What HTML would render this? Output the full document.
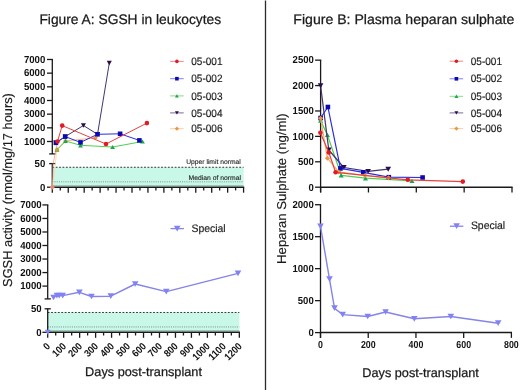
<!DOCTYPE html><html><head><meta charset="utf-8"><style>html,body{margin:0;padding:0;background:#fff;}body{width:520px;height:390px;overflow:hidden;}svg{display:block;filter:blur(0.3px);}text{font-family:"Liberation Sans", sans-serif;text-rendering:geometricPrecision;}</style></head><body>
<svg width="520" height="390" viewBox="0 0 520 390">
<rect width="520" height="390" fill="#fff"/>
<line x1="265.50" y1="0.50" x2="265.50" y2="390.00" stroke="#2b2b2b" stroke-width="1.3" />
<text x="39.40" y="23.80" font-size="13.8" font-weight="normal" text-anchor="start" fill="#1a1a1a" textLength="181.8" lengthAdjust="spacingAndGlyphs" stroke="#1a1a1a" stroke-width="0.25">Figure A: SGSH in leukocytes</text>
<text x="293.30" y="23.80" font-size="13.8" font-weight="normal" text-anchor="start" fill="#1a1a1a" textLength="221.0" lengthAdjust="spacingAndGlyphs" stroke="#1a1a1a" stroke-width="0.25">Figure B: Plasma heparan sulphate</text>
<text x="85.10" y="376.30" font-size="12.6" font-weight="normal" text-anchor="start" fill="#1a1a1a" textLength="116.9" lengthAdjust="spacingAndGlyphs" stroke="#1a1a1a" stroke-width="0.25">Days post-transplant</text>
<text x="362.30" y="376.60" font-size="12.6" font-weight="normal" text-anchor="start" fill="#1a1a1a" textLength="116.5" lengthAdjust="spacingAndGlyphs" stroke="#1a1a1a" stroke-width="0.25">Days post-transplant</text>
<text x="0" y="0" font-size="12.9" fill="#1a1a1a" textLength="193.8" lengthAdjust="spacingAndGlyphs" stroke="#1a1a1a" stroke-width="0.15" transform="translate(11.6,286.9) rotate(-90)">SGSH activity (nmol/mg/17 hours)</text>
<text x="0" y="0" font-size="12.9" fill="#1a1a1a" textLength="150.6" lengthAdjust="spacingAndGlyphs" stroke="#1a1a1a" stroke-width="0.15" transform="translate(286.2,263.9) rotate(-90)">Heparan Sulphate (ng/ml)</text>
<rect x="52.30" y="167.28" width="191.28" height="19.92" fill="#c9f7e8"/>
<line x1="52.30" y1="167.28" x2="243.58" y2="167.28" stroke="#333" stroke-width="1.0" stroke-dasharray="1.8,1.6"/>
<line x1="52.30" y1="181.82" x2="243.58" y2="181.82" stroke="#6a8a80" stroke-width="0.9" stroke-dasharray="1,1.2"/>
<line x1="52.30" y1="185.60" x2="243.58" y2="185.60" stroke="#8fb0a6" stroke-width="0.8" />
<text x="240.80" y="164.30" font-size="6.7" font-weight="normal" text-anchor="end" fill="#222" textLength="54.6" lengthAdjust="spacingAndGlyphs" stroke="#222" stroke-width="0.12">Upper limit normal</text>
<text x="241.00" y="179.60" font-size="6.7" font-weight="normal" text-anchor="end" fill="#222" textLength="52.5" lengthAdjust="spacingAndGlyphs" stroke="#222" stroke-width="0.12">Median of normal</text>
<line x1="52.30" y1="59.48" x2="52.30" y2="153.90" stroke="#1a1a1a" stroke-width="1.3" />
<line x1="47.00" y1="59.48" x2="52.95" y2="59.48" stroke="#1a1a1a" stroke-width="1.3" />
<text x="45.30" y="62.78" font-size="10.2" font-weight="bold" text-anchor="end" fill="#111" textLength="21.4" lengthAdjust="spacingAndGlyphs" >7000</text>
<line x1="47.00" y1="73.15" x2="52.30" y2="73.15" stroke="#1a1a1a" stroke-width="1.3" />
<text x="45.30" y="76.45" font-size="10.2" font-weight="bold" text-anchor="end" fill="#111" textLength="21.4" lengthAdjust="spacingAndGlyphs" >6000</text>
<line x1="47.00" y1="86.82" x2="52.30" y2="86.82" stroke="#1a1a1a" stroke-width="1.3" />
<text x="45.30" y="90.12" font-size="10.2" font-weight="bold" text-anchor="end" fill="#111" textLength="21.4" lengthAdjust="spacingAndGlyphs" >5000</text>
<line x1="47.00" y1="100.49" x2="52.30" y2="100.49" stroke="#1a1a1a" stroke-width="1.3" />
<text x="45.30" y="103.79" font-size="10.2" font-weight="bold" text-anchor="end" fill="#111" textLength="21.4" lengthAdjust="spacingAndGlyphs" >4000</text>
<line x1="47.00" y1="114.16" x2="52.30" y2="114.16" stroke="#1a1a1a" stroke-width="1.3" />
<text x="45.30" y="117.46" font-size="10.2" font-weight="bold" text-anchor="end" fill="#111" textLength="21.4" lengthAdjust="spacingAndGlyphs" >3000</text>
<line x1="47.00" y1="127.83" x2="52.30" y2="127.83" stroke="#1a1a1a" stroke-width="1.3" />
<text x="45.30" y="131.13" font-size="10.2" font-weight="bold" text-anchor="end" fill="#111" textLength="21.4" lengthAdjust="spacingAndGlyphs" >2000</text>
<line x1="47.00" y1="141.50" x2="52.30" y2="141.50" stroke="#1a1a1a" stroke-width="1.3" />
<text x="45.30" y="144.80" font-size="10.2" font-weight="bold" text-anchor="end" fill="#111" textLength="21.4" lengthAdjust="spacingAndGlyphs" >1000</text>
<line x1="49.20" y1="153.90" x2="55.40" y2="153.90" stroke="#1a1a1a" stroke-width="1.3" />
<line x1="52.30" y1="163.60" x2="52.30" y2="187.20" stroke="#1a1a1a" stroke-width="1.3" />
<text x="45.30" y="166.90" font-size="10.2" font-weight="bold" text-anchor="end" fill="#111" textLength="10.7" lengthAdjust="spacingAndGlyphs" >50</text>
<line x1="47.00" y1="187.20" x2="52.30" y2="187.20" stroke="#1a1a1a" stroke-width="1.3" />
<text x="45.30" y="190.50" font-size="10.2" font-weight="bold" text-anchor="end" fill="#111" textLength="5.35" lengthAdjust="spacingAndGlyphs" >0</text>
<line x1="49.20" y1="163.60" x2="55.40" y2="163.60" stroke="#1a1a1a" stroke-width="1.3" />
<line x1="52.30" y1="187.20" x2="244.18" y2="187.20" stroke="#1a1a1a" stroke-width="1.5" />
<line x1="52.30" y1="187.20" x2="52.30" y2="192.70" stroke="#1a1a1a" stroke-width="1.3" />
<line x1="60.27" y1="187.20" x2="60.27" y2="190.40" stroke="#1a1a1a" stroke-width="1.3" />
<line x1="68.24" y1="187.20" x2="68.24" y2="192.70" stroke="#1a1a1a" stroke-width="1.3" />
<line x1="76.21" y1="187.20" x2="76.21" y2="190.40" stroke="#1a1a1a" stroke-width="1.3" />
<line x1="84.18" y1="187.20" x2="84.18" y2="192.70" stroke="#1a1a1a" stroke-width="1.3" />
<line x1="92.15" y1="187.20" x2="92.15" y2="190.40" stroke="#1a1a1a" stroke-width="1.3" />
<line x1="100.12" y1="187.20" x2="100.12" y2="192.70" stroke="#1a1a1a" stroke-width="1.3" />
<line x1="108.09" y1="187.20" x2="108.09" y2="190.40" stroke="#1a1a1a" stroke-width="1.3" />
<line x1="116.06" y1="187.20" x2="116.06" y2="192.70" stroke="#1a1a1a" stroke-width="1.3" />
<line x1="124.03" y1="187.20" x2="124.03" y2="190.40" stroke="#1a1a1a" stroke-width="1.3" />
<line x1="132.00" y1="187.20" x2="132.00" y2="192.70" stroke="#1a1a1a" stroke-width="1.3" />
<line x1="139.97" y1="187.20" x2="139.97" y2="190.40" stroke="#1a1a1a" stroke-width="1.3" />
<line x1="147.94" y1="187.20" x2="147.94" y2="192.70" stroke="#1a1a1a" stroke-width="1.3" />
<line x1="155.91" y1="187.20" x2="155.91" y2="190.40" stroke="#1a1a1a" stroke-width="1.3" />
<line x1="163.88" y1="187.20" x2="163.88" y2="192.70" stroke="#1a1a1a" stroke-width="1.3" />
<line x1="171.85" y1="187.20" x2="171.85" y2="190.40" stroke="#1a1a1a" stroke-width="1.3" />
<line x1="179.82" y1="187.20" x2="179.82" y2="192.70" stroke="#1a1a1a" stroke-width="1.3" />
<line x1="187.79" y1="187.20" x2="187.79" y2="190.40" stroke="#1a1a1a" stroke-width="1.3" />
<line x1="195.76" y1="187.20" x2="195.76" y2="192.70" stroke="#1a1a1a" stroke-width="1.3" />
<line x1="203.73" y1="187.20" x2="203.73" y2="190.40" stroke="#1a1a1a" stroke-width="1.3" />
<line x1="211.70" y1="187.20" x2="211.70" y2="192.70" stroke="#1a1a1a" stroke-width="1.3" />
<line x1="219.67" y1="187.20" x2="219.67" y2="190.40" stroke="#1a1a1a" stroke-width="1.3" />
<line x1="227.64" y1="187.20" x2="227.64" y2="192.70" stroke="#1a1a1a" stroke-width="1.3" />
<line x1="235.61" y1="187.20" x2="235.61" y2="190.40" stroke="#1a1a1a" stroke-width="1.3" />
<line x1="243.58" y1="187.20" x2="243.58" y2="192.70" stroke="#1a1a1a" stroke-width="1.3" />
<polyline points="52.30,187.20 57.00,149.70" fill="none" stroke="#f6dca0" stroke-width="0.8" stroke-linejoin="round"/>
<polyline points="52.30,187.20 53.20,163.50 57.50,141.50" fill="none" stroke="#e89090" stroke-width="0.7" stroke-linejoin="round"/>
<polyline points="57.00,149.70 65.50,141.00 95.50,137.80" fill="none" stroke="#f2b070" stroke-width="0.9" stroke-linejoin="round"/>
<polygon points="57.00,147.30 59.40,149.70 57.00,152.10 54.60,149.70" fill="#eb9646"/>
<polygon points="65.50,138.60 67.90,141.00 65.50,143.40 63.10,141.00" fill="#eb9646"/>
<polygon points="95.50,135.40 97.90,137.80 95.50,140.20 93.10,137.80" fill="#eb9646"/>
<polyline points="57.00,149.70 65.50,141.00 80.50,145.30 112.60,147.00 142.50,141.50" fill="none" stroke="#4fcf50" stroke-width="1.0" stroke-linejoin="round"/>
<polygon points="54.58,151.79 59.42,151.79 57.00,147.61" fill="#1aa84a"/>
<polygon points="63.08,143.09 67.92,143.09 65.50,138.91" fill="#1aa84a"/>
<polygon points="78.08,147.39 82.92,147.39 80.50,143.21" fill="#1aa84a"/>
<polygon points="110.18,149.09 115.02,149.09 112.60,144.91" fill="#1aa84a"/>
<polygon points="140.08,143.59 144.92,143.59 142.50,139.41" fill="#1aa84a"/>
<polygon points="57.00,147.62 59.28,149.90 57.00,152.18 54.72,149.90" fill="#c9a040"/>
<polyline points="55.90,142.80 65.20,136.60 83.40,125.50 97.50,134.30 109.30,63.00" fill="none" stroke="#43346e" stroke-width="1.0" stroke-linejoin="round"/>
<polygon points="53.37,140.62 58.43,140.62 55.90,144.99" fill="#2a0c48"/>
<polygon points="62.67,134.41 67.73,134.41 65.20,138.78" fill="#2a0c48"/>
<polygon points="80.87,123.31 85.93,123.31 83.40,127.69" fill="#2a0c48"/>
<polygon points="94.97,132.12 100.03,132.12 97.50,136.49" fill="#2a0c48"/>
<polygon points="106.77,60.81 111.83,60.81 109.30,65.19" fill="#2a0c48"/>
<polyline points="55.90,142.80 65.20,136.60 80.50,142.40 97.50,134.30 120.10,133.80 139.40,140.40" fill="none" stroke="#2b2be0" stroke-width="1.0" stroke-linejoin="round"/>
<rect x="53.60" y="140.50" width="4.60" height="4.60" fill="#0a0ab0"/>
<rect x="62.90" y="134.30" width="4.60" height="4.60" fill="#0a0ab0"/>
<rect x="78.20" y="140.10" width="4.60" height="4.60" fill="#0a0ab0"/>
<rect x="95.20" y="132.00" width="4.60" height="4.60" fill="#0a0ab0"/>
<rect x="117.80" y="131.50" width="4.60" height="4.60" fill="#0a0ab0"/>
<rect x="137.10" y="138.10" width="4.60" height="4.60" fill="#0a0ab0"/>
<polyline points="57.50,141.50 62.20,125.60 106.00,144.00 146.90,123.10" fill="none" stroke="#e8413f" stroke-width="1.0" stroke-linejoin="round"/>
<circle cx="57.50" cy="141.50" r="2.3" fill="#dd1c24"/>
<circle cx="62.20" cy="125.60" r="2.3" fill="#dd1c24"/>
<circle cx="106.00" cy="144.00" r="2.3" fill="#dd1c24"/>
<circle cx="146.90" cy="123.10" r="2.3" fill="#dd1c24"/>
<polygon points="52.30,184.56 54.94,187.20 52.30,189.84 49.66,187.20" fill="#e88a70"/>
<line x1="170.10" y1="61.40" x2="183.70" y2="61.40" stroke="#ef7a78" stroke-width="0.9" />
<circle cx="176.90" cy="61.40" r="1.8" fill="#dd1c24"/>
<text x="191.30" y="65.00" font-size="10.8" font-weight="normal" text-anchor="start" fill="#1e1e1e" textLength="31.2" lengthAdjust="spacingAndGlyphs" stroke="#1e1e1e" stroke-width="0.18">05-001</text>
<line x1="170.10" y1="78.70" x2="183.70" y2="78.70" stroke="#7070ec" stroke-width="0.9" />
<rect x="175.10" y="76.90" width="3.60" height="3.60" fill="#0a0ab0"/>
<text x="191.30" y="82.30" font-size="10.8" font-weight="normal" text-anchor="start" fill="#1e1e1e" textLength="31.2" lengthAdjust="spacingAndGlyphs" stroke="#1e1e1e" stroke-width="0.18">05-002</text>
<line x1="170.10" y1="95.90" x2="183.70" y2="95.90" stroke="#78d878" stroke-width="0.9" />
<polygon points="174.92,97.61 178.88,97.61 176.90,94.19" fill="#1aa84a"/>
<text x="191.30" y="99.50" font-size="10.8" font-weight="normal" text-anchor="start" fill="#1e1e1e" textLength="31.2" lengthAdjust="spacingAndGlyphs" stroke="#1e1e1e" stroke-width="0.18">05-003</text>
<line x1="170.10" y1="112.90" x2="183.70" y2="112.90" stroke="#6a5c8c" stroke-width="0.9" />
<polygon points="174.92,111.19 178.88,111.19 176.90,114.61" fill="#2a0c48"/>
<text x="191.30" y="116.50" font-size="10.8" font-weight="normal" text-anchor="start" fill="#1e1e1e" textLength="31.2" lengthAdjust="spacingAndGlyphs" stroke="#1e1e1e" stroke-width="0.18">05-004</text>
<line x1="170.10" y1="128.70" x2="183.70" y2="128.70" stroke="#f6c89a" stroke-width="0.9" />
<polygon points="176.90,126.54 179.06,128.70 176.90,130.86 174.74,128.70" fill="#eb9646"/>
<text x="191.30" y="132.30" font-size="10.8" font-weight="normal" text-anchor="start" fill="#1e1e1e" textLength="31.2" lengthAdjust="spacingAndGlyphs" stroke="#1e1e1e" stroke-width="0.18">05-006</text>
<line x1="449.60" y1="61.20" x2="463.20" y2="61.20" stroke="#ef7a78" stroke-width="0.9" />
<circle cx="456.40" cy="61.20" r="1.8" fill="#dd1c24"/>
<text x="470.80" y="64.80" font-size="10.8" font-weight="normal" text-anchor="start" fill="#1e1e1e" textLength="31.2" lengthAdjust="spacingAndGlyphs" stroke="#1e1e1e" stroke-width="0.18">05-001</text>
<line x1="449.60" y1="78.80" x2="463.20" y2="78.80" stroke="#7070ec" stroke-width="0.9" />
<rect x="454.60" y="77.00" width="3.60" height="3.60" fill="#0a0ab0"/>
<text x="470.80" y="82.40" font-size="10.8" font-weight="normal" text-anchor="start" fill="#1e1e1e" textLength="31.2" lengthAdjust="spacingAndGlyphs" stroke="#1e1e1e" stroke-width="0.18">05-002</text>
<line x1="449.60" y1="96.30" x2="463.20" y2="96.30" stroke="#78d878" stroke-width="0.9" />
<polygon points="454.42,98.01 458.38,98.01 456.40,94.59" fill="#1aa84a"/>
<text x="470.80" y="99.90" font-size="10.8" font-weight="normal" text-anchor="start" fill="#1e1e1e" textLength="31.2" lengthAdjust="spacingAndGlyphs" stroke="#1e1e1e" stroke-width="0.18">05-003</text>
<line x1="449.60" y1="112.90" x2="463.20" y2="112.90" stroke="#6a5c8c" stroke-width="0.9" />
<polygon points="454.42,111.19 458.38,111.19 456.40,114.61" fill="#2a0c48"/>
<text x="470.80" y="116.50" font-size="10.8" font-weight="normal" text-anchor="start" fill="#1e1e1e" textLength="31.2" lengthAdjust="spacingAndGlyphs" stroke="#1e1e1e" stroke-width="0.18">05-004</text>
<line x1="449.60" y1="128.60" x2="463.20" y2="128.60" stroke="#f6c89a" stroke-width="0.9" />
<polygon points="456.40,126.44 458.56,128.60 456.40,130.76 454.24,128.60" fill="#eb9646"/>
<text x="470.80" y="132.20" font-size="10.8" font-weight="normal" text-anchor="start" fill="#1e1e1e" textLength="31.2" lengthAdjust="spacingAndGlyphs" stroke="#1e1e1e" stroke-width="0.18">05-006</text>
<rect x="47.70" y="312.47" width="191.64" height="19.83" fill="#c9f7e8"/>
<line x1="47.70" y1="312.47" x2="239.34" y2="312.47" stroke="#333" stroke-width="1.0" stroke-dasharray="1.8,1.6"/>
<line x1="47.70" y1="326.94" x2="239.34" y2="326.94" stroke="#6a8a80" stroke-width="0.9" stroke-dasharray="1,1.2"/>
<line x1="47.70" y1="330.60" x2="239.34" y2="330.60" stroke="#8fb0a6" stroke-width="0.8" />
<line x1="47.70" y1="204.92" x2="47.70" y2="298.90" stroke="#1a1a1a" stroke-width="1.3" />
<line x1="42.40" y1="204.92" x2="48.35" y2="204.92" stroke="#1a1a1a" stroke-width="1.3" />
<text x="41.60" y="208.22" font-size="10.2" font-weight="bold" text-anchor="end" fill="#111" textLength="21.4" lengthAdjust="spacingAndGlyphs" >7000</text>
<line x1="42.40" y1="218.45" x2="47.70" y2="218.45" stroke="#1a1a1a" stroke-width="1.3" />
<text x="41.60" y="221.75" font-size="10.2" font-weight="bold" text-anchor="end" fill="#111" textLength="21.4" lengthAdjust="spacingAndGlyphs" >6000</text>
<line x1="42.40" y1="231.98" x2="47.70" y2="231.98" stroke="#1a1a1a" stroke-width="1.3" />
<text x="41.60" y="235.28" font-size="10.2" font-weight="bold" text-anchor="end" fill="#111" textLength="21.4" lengthAdjust="spacingAndGlyphs" >5000</text>
<line x1="42.40" y1="245.51" x2="47.70" y2="245.51" stroke="#1a1a1a" stroke-width="1.3" />
<text x="41.60" y="248.81" font-size="10.2" font-weight="bold" text-anchor="end" fill="#111" textLength="21.4" lengthAdjust="spacingAndGlyphs" >4000</text>
<line x1="42.40" y1="259.04" x2="47.70" y2="259.04" stroke="#1a1a1a" stroke-width="1.3" />
<text x="41.60" y="262.34" font-size="10.2" font-weight="bold" text-anchor="end" fill="#111" textLength="21.4" lengthAdjust="spacingAndGlyphs" >3000</text>
<line x1="42.40" y1="272.57" x2="47.70" y2="272.57" stroke="#1a1a1a" stroke-width="1.3" />
<text x="41.60" y="275.87" font-size="10.2" font-weight="bold" text-anchor="end" fill="#111" textLength="21.4" lengthAdjust="spacingAndGlyphs" >2000</text>
<line x1="42.40" y1="286.10" x2="47.70" y2="286.10" stroke="#1a1a1a" stroke-width="1.3" />
<text x="41.60" y="289.40" font-size="10.2" font-weight="bold" text-anchor="end" fill="#111" textLength="21.4" lengthAdjust="spacingAndGlyphs" >1000</text>
<line x1="44.60" y1="298.90" x2="50.80" y2="298.90" stroke="#1a1a1a" stroke-width="1.3" />
<line x1="47.70" y1="308.80" x2="47.70" y2="332.30" stroke="#1a1a1a" stroke-width="1.3" />
<text x="41.60" y="312.10" font-size="10.2" font-weight="bold" text-anchor="end" fill="#111" textLength="10.7" lengthAdjust="spacingAndGlyphs" >50</text>
<line x1="42.40" y1="332.30" x2="47.70" y2="332.30" stroke="#1a1a1a" stroke-width="1.3" />
<text x="41.60" y="335.60" font-size="10.2" font-weight="bold" text-anchor="end" fill="#111" textLength="5.35" lengthAdjust="spacingAndGlyphs" >0</text>
<line x1="44.60" y1="308.80" x2="50.80" y2="308.80" stroke="#1a1a1a" stroke-width="1.3" />
<line x1="47.70" y1="332.30" x2="239.94" y2="332.30" stroke="#1a1a1a" stroke-width="1.5" />
<line x1="47.70" y1="332.30" x2="47.70" y2="337.80" stroke="#1a1a1a" stroke-width="1.3" />
<line x1="55.69" y1="332.30" x2="55.69" y2="335.50" stroke="#1a1a1a" stroke-width="1.3" />
<line x1="63.67" y1="332.30" x2="63.67" y2="337.80" stroke="#1a1a1a" stroke-width="1.3" />
<line x1="71.66" y1="332.30" x2="71.66" y2="335.50" stroke="#1a1a1a" stroke-width="1.3" />
<line x1="79.64" y1="332.30" x2="79.64" y2="337.80" stroke="#1a1a1a" stroke-width="1.3" />
<line x1="87.62" y1="332.30" x2="87.62" y2="335.50" stroke="#1a1a1a" stroke-width="1.3" />
<line x1="95.61" y1="332.30" x2="95.61" y2="337.80" stroke="#1a1a1a" stroke-width="1.3" />
<line x1="103.59" y1="332.30" x2="103.59" y2="335.50" stroke="#1a1a1a" stroke-width="1.3" />
<line x1="111.58" y1="332.30" x2="111.58" y2="337.80" stroke="#1a1a1a" stroke-width="1.3" />
<line x1="119.57" y1="332.30" x2="119.57" y2="335.50" stroke="#1a1a1a" stroke-width="1.3" />
<line x1="127.55" y1="332.30" x2="127.55" y2="337.80" stroke="#1a1a1a" stroke-width="1.3" />
<line x1="135.54" y1="332.30" x2="135.54" y2="335.50" stroke="#1a1a1a" stroke-width="1.3" />
<line x1="143.52" y1="332.30" x2="143.52" y2="337.80" stroke="#1a1a1a" stroke-width="1.3" />
<line x1="151.50" y1="332.30" x2="151.50" y2="335.50" stroke="#1a1a1a" stroke-width="1.3" />
<line x1="159.49" y1="332.30" x2="159.49" y2="337.80" stroke="#1a1a1a" stroke-width="1.3" />
<line x1="167.48" y1="332.30" x2="167.48" y2="335.50" stroke="#1a1a1a" stroke-width="1.3" />
<line x1="175.46" y1="332.30" x2="175.46" y2="337.80" stroke="#1a1a1a" stroke-width="1.3" />
<line x1="183.44" y1="332.30" x2="183.44" y2="335.50" stroke="#1a1a1a" stroke-width="1.3" />
<line x1="191.43" y1="332.30" x2="191.43" y2="337.80" stroke="#1a1a1a" stroke-width="1.3" />
<line x1="199.42" y1="332.30" x2="199.42" y2="335.50" stroke="#1a1a1a" stroke-width="1.3" />
<line x1="207.40" y1="332.30" x2="207.40" y2="337.80" stroke="#1a1a1a" stroke-width="1.3" />
<line x1="215.38" y1="332.30" x2="215.38" y2="335.50" stroke="#1a1a1a" stroke-width="1.3" />
<line x1="223.37" y1="332.30" x2="223.37" y2="337.80" stroke="#1a1a1a" stroke-width="1.3" />
<line x1="231.36" y1="332.30" x2="231.36" y2="335.50" stroke="#1a1a1a" stroke-width="1.3" />
<line x1="239.34" y1="332.30" x2="239.34" y2="337.80" stroke="#1a1a1a" stroke-width="1.3" />
<text x="0" y="0" font-size="10.2" font-weight="bold" text-anchor="end" fill="#111" textLength="5.0" lengthAdjust="spacingAndGlyphs" transform="translate(50.90,346.90) rotate(-45)">0</text>
<text x="0" y="0" font-size="10.2" font-weight="bold" text-anchor="end" fill="#111" textLength="15.0" lengthAdjust="spacingAndGlyphs" transform="translate(66.87,346.90) rotate(-45)">100</text>
<text x="0" y="0" font-size="10.2" font-weight="bold" text-anchor="end" fill="#111" textLength="15.0" lengthAdjust="spacingAndGlyphs" transform="translate(82.84,346.90) rotate(-45)">200</text>
<text x="0" y="0" font-size="10.2" font-weight="bold" text-anchor="end" fill="#111" textLength="15.0" lengthAdjust="spacingAndGlyphs" transform="translate(98.81,346.90) rotate(-45)">300</text>
<text x="0" y="0" font-size="10.2" font-weight="bold" text-anchor="end" fill="#111" textLength="15.0" lengthAdjust="spacingAndGlyphs" transform="translate(114.78,346.90) rotate(-45)">400</text>
<text x="0" y="0" font-size="10.2" font-weight="bold" text-anchor="end" fill="#111" textLength="15.0" lengthAdjust="spacingAndGlyphs" transform="translate(130.75,346.90) rotate(-45)">500</text>
<text x="0" y="0" font-size="10.2" font-weight="bold" text-anchor="end" fill="#111" textLength="15.0" lengthAdjust="spacingAndGlyphs" transform="translate(146.72,346.90) rotate(-45)">600</text>
<text x="0" y="0" font-size="10.2" font-weight="bold" text-anchor="end" fill="#111" textLength="15.0" lengthAdjust="spacingAndGlyphs" transform="translate(162.69,346.90) rotate(-45)">700</text>
<text x="0" y="0" font-size="10.2" font-weight="bold" text-anchor="end" fill="#111" textLength="15.0" lengthAdjust="spacingAndGlyphs" transform="translate(178.66,346.90) rotate(-45)">800</text>
<text x="0" y="0" font-size="10.2" font-weight="bold" text-anchor="end" fill="#111" textLength="15.0" lengthAdjust="spacingAndGlyphs" transform="translate(194.63,346.90) rotate(-45)">900</text>
<text x="0" y="0" font-size="10.2" font-weight="bold" text-anchor="end" fill="#111" textLength="20.0" lengthAdjust="spacingAndGlyphs" transform="translate(210.60,346.90) rotate(-45)">1000</text>
<text x="0" y="0" font-size="10.2" font-weight="bold" text-anchor="end" fill="#111" textLength="20.0" lengthAdjust="spacingAndGlyphs" transform="translate(226.57,346.90) rotate(-45)">1100</text>
<text x="0" y="0" font-size="10.2" font-weight="bold" text-anchor="end" fill="#111" textLength="20.0" lengthAdjust="spacingAndGlyphs" transform="translate(242.54,346.90) rotate(-45)">1200</text>
<polyline points="53.50,297.50 56.90,295.60 59.20,295.60 62.70,295.60 79.40,292.30 91.50,296.50 110.80,296.20 135.20,284.00 166.30,291.60 238.00,273.40" fill="none" stroke="#8484ea" stroke-width="1.4" stroke-linejoin="round"/>
<polygon points="50.20,294.65 56.80,294.65 53.50,300.35" fill="#8282f2"/>
<polygon points="53.60,292.75 60.20,292.75 56.90,298.45" fill="#8282f2"/>
<polygon points="55.90,292.75 62.50,292.75 59.20,298.45" fill="#8282f2"/>
<polygon points="59.40,292.75 66.00,292.75 62.70,298.45" fill="#8282f2"/>
<polygon points="76.10,289.45 82.70,289.45 79.40,295.15" fill="#8282f2"/>
<polygon points="88.20,293.65 94.80,293.65 91.50,299.35" fill="#8282f2"/>
<polygon points="107.50,293.35 114.10,293.35 110.80,299.05" fill="#8282f2"/>
<polygon points="131.90,281.15 138.50,281.15 135.20,286.85" fill="#8282f2"/>
<polygon points="163.00,288.75 169.60,288.75 166.30,294.45" fill="#8282f2"/>
<polygon points="234.70,270.55 241.30,270.55 238.00,276.25" fill="#8282f2"/>
<polygon points="44.84,329.83 50.56,329.83 47.70,334.77" fill="#8282f2"/>
<line x1="170.50" y1="228.60" x2="183.90" y2="228.60" stroke="#8484ea" stroke-width="1.3" />
<polygon points="173.90,225.75 180.50,225.75 177.20,231.45" fill="#8282f2"/>
<text x="191.50" y="231.70" font-size="10.8" font-weight="normal" text-anchor="start" fill="#1e1e1e" textLength="34.2" lengthAdjust="spacingAndGlyphs" stroke="#1e1e1e" stroke-width="0.18">Special</text>
<line x1="449.90" y1="226.20" x2="463.30" y2="226.20" stroke="#8484ea" stroke-width="1.3" />
<polygon points="453.30,223.35 459.90,223.35 456.60,229.05" fill="#8282f2"/>
<text x="470.90" y="229.30" font-size="10.8" font-weight="normal" text-anchor="start" fill="#1e1e1e" textLength="34.2" lengthAdjust="spacingAndGlyphs" stroke="#1e1e1e" stroke-width="0.18">Special</text>
<line x1="320.60" y1="60.15" x2="320.60" y2="192.50" stroke="#1a1a1a" stroke-width="1.3" />
<line x1="315.10" y1="60.15" x2="321.25" y2="60.15" stroke="#1a1a1a" stroke-width="1.3" />
<text x="313.80" y="63.45" font-size="10.2" font-weight="bold" text-anchor="end" fill="#111" textLength="21.2" lengthAdjust="spacingAndGlyphs" >2500</text>
<line x1="315.10" y1="85.56" x2="320.60" y2="85.56" stroke="#1a1a1a" stroke-width="1.3" />
<text x="313.80" y="88.86" font-size="10.2" font-weight="bold" text-anchor="end" fill="#111" textLength="21.2" lengthAdjust="spacingAndGlyphs" >2000</text>
<line x1="315.10" y1="110.97" x2="320.60" y2="110.97" stroke="#1a1a1a" stroke-width="1.3" />
<text x="313.80" y="114.27" font-size="10.2" font-weight="bold" text-anchor="end" fill="#111" textLength="21.2" lengthAdjust="spacingAndGlyphs" >1500</text>
<line x1="315.10" y1="136.38" x2="320.60" y2="136.38" stroke="#1a1a1a" stroke-width="1.3" />
<text x="313.80" y="139.68" font-size="10.2" font-weight="bold" text-anchor="end" fill="#111" textLength="21.2" lengthAdjust="spacingAndGlyphs" >1000</text>
<line x1="315.10" y1="161.79" x2="320.60" y2="161.79" stroke="#1a1a1a" stroke-width="1.3" />
<text x="313.80" y="165.09" font-size="10.2" font-weight="bold" text-anchor="end" fill="#111" textLength="15.9" lengthAdjust="spacingAndGlyphs" >500</text>
<line x1="315.10" y1="187.20" x2="320.60" y2="187.20" stroke="#1a1a1a" stroke-width="1.3" />
<text x="313.80" y="190.50" font-size="10.2" font-weight="bold" text-anchor="end" fill="#111" textLength="5.3" lengthAdjust="spacingAndGlyphs" >0</text>
<line x1="320.60" y1="187.20" x2="512.60" y2="187.20" stroke="#1a1a1a" stroke-width="1.5" />
<line x1="320.60" y1="187.20" x2="320.60" y2="192.50" stroke="#1a1a1a" stroke-width="1.3" />
<line x1="368.45" y1="187.20" x2="368.45" y2="192.50" stroke="#1a1a1a" stroke-width="1.3" />
<line x1="416.30" y1="187.20" x2="416.30" y2="192.50" stroke="#1a1a1a" stroke-width="1.3" />
<line x1="464.15" y1="187.20" x2="464.15" y2="192.50" stroke="#1a1a1a" stroke-width="1.3" />
<line x1="512.00" y1="187.20" x2="512.00" y2="192.50" stroke="#1a1a1a" stroke-width="1.3" />
<polyline points="320.60,120.50 327.40,134.90 341.20,175.30 365.50,178.20 412.00,180.90" fill="none" stroke="#4fcf50" stroke-width="1.2" stroke-linejoin="round"/>
<polygon points="318.07,122.69 323.13,122.69 320.60,118.31" fill="#1aa84a"/>
<polygon points="324.87,137.09 329.93,137.09 327.40,132.72" fill="#1aa84a"/>
<polygon points="338.67,177.49 343.73,177.49 341.20,173.12" fill="#1aa84a"/>
<polygon points="362.97,180.38 368.03,180.38 365.50,176.01" fill="#1aa84a"/>
<polygon points="409.47,183.09 414.53,183.09 412.00,178.72" fill="#1aa84a"/>
<polyline points="320.60,85.80 328.80,150.00 343.80,167.50 368.10,171.40 388.20,169.20" fill="none" stroke="#43346e" stroke-width="1.2" stroke-linejoin="round"/>
<polygon points="317.74,83.33 323.46,83.33 320.60,88.27" fill="#2a0c48"/>
<polygon points="325.94,147.53 331.66,147.53 328.80,152.47" fill="#2a0c48"/>
<polygon points="340.94,165.03 346.66,165.03 343.80,169.97" fill="#2a0c48"/>
<polygon points="365.24,168.93 370.96,168.93 368.10,173.87" fill="#2a0c48"/>
<polygon points="385.34,166.73 391.06,166.73 388.20,171.67" fill="#2a0c48"/>
<polyline points="320.60,118.00 327.90,107.00 340.40,168.40 363.30,172.30 388.80,177.20 422.60,177.50" fill="none" stroke="#2b2be0" stroke-width="1.2" stroke-linejoin="round"/>
<rect x="318.30" y="115.70" width="4.60" height="4.60" fill="#0a0ab0"/>
<rect x="325.60" y="104.70" width="4.60" height="4.60" fill="#0a0ab0"/>
<rect x="338.10" y="166.10" width="4.60" height="4.60" fill="#0a0ab0"/>
<rect x="361.00" y="170.00" width="4.60" height="4.60" fill="#0a0ab0"/>
<rect x="386.50" y="174.90" width="4.60" height="4.60" fill="#0a0ab0"/>
<rect x="420.30" y="175.20" width="4.60" height="4.60" fill="#0a0ab0"/>
<polyline points="320.60,118.20 327.40,158.20 338.70,171.90 365.00,175.50 388.50,177.80" fill="none" stroke="#f2b070" stroke-width="1.2" stroke-linejoin="round"/>
<polygon points="320.60,115.68 323.12,118.20 320.60,120.72 318.08,118.20" fill="#eb9646"/>
<polygon points="327.40,155.68 329.92,158.20 327.40,160.72 324.88,158.20" fill="#eb9646"/>
<polygon points="338.70,169.38 341.22,171.90 338.70,174.42 336.18,171.90" fill="#eb9646"/>
<polygon points="365.00,172.98 367.52,175.50 365.00,178.02 362.48,175.50" fill="#eb9646"/>
<polygon points="388.50,175.28 391.02,177.80 388.50,180.32 385.98,177.80" fill="#eb9646"/>
<polyline points="320.40,132.80 328.80,152.50 335.60,172.30 407.80,179.80 462.80,181.60" fill="none" stroke="#e8413f" stroke-width="1.2" stroke-linejoin="round"/>
<circle cx="320.40" cy="132.80" r="2.3" fill="#dd1c24"/>
<circle cx="328.80" cy="152.50" r="2.3" fill="#dd1c24"/>
<circle cx="335.60" cy="172.30" r="2.3" fill="#dd1c24"/>
<circle cx="407.80" cy="179.80" r="2.3" fill="#dd1c24"/>
<circle cx="462.80" cy="181.60" r="2.3" fill="#dd1c24"/>
<line x1="320.50" y1="204.72" x2="320.50" y2="337.90" stroke="#1a1a1a" stroke-width="1.3" />
<line x1="315.00" y1="204.72" x2="321.15" y2="204.72" stroke="#1a1a1a" stroke-width="1.3" />
<text x="313.70" y="208.02" font-size="10.2" font-weight="bold" text-anchor="end" fill="#111" textLength="21.2" lengthAdjust="spacingAndGlyphs" >2000</text>
<line x1="315.00" y1="236.69" x2="320.50" y2="236.69" stroke="#1a1a1a" stroke-width="1.3" />
<text x="313.70" y="239.99" font-size="10.2" font-weight="bold" text-anchor="end" fill="#111" textLength="21.2" lengthAdjust="spacingAndGlyphs" >1500</text>
<line x1="315.00" y1="268.66" x2="320.50" y2="268.66" stroke="#1a1a1a" stroke-width="1.3" />
<text x="313.70" y="271.96" font-size="10.2" font-weight="bold" text-anchor="end" fill="#111" textLength="21.2" lengthAdjust="spacingAndGlyphs" >1000</text>
<line x1="315.00" y1="300.63" x2="320.50" y2="300.63" stroke="#1a1a1a" stroke-width="1.3" />
<text x="313.70" y="303.93" font-size="10.2" font-weight="bold" text-anchor="end" fill="#111" textLength="15.9" lengthAdjust="spacingAndGlyphs" >500</text>
<line x1="315.00" y1="332.60" x2="320.50" y2="332.60" stroke="#1a1a1a" stroke-width="1.3" />
<text x="313.70" y="335.90" font-size="10.2" font-weight="bold" text-anchor="end" fill="#111" textLength="5.3" lengthAdjust="spacingAndGlyphs" >0</text>
<line x1="320.50" y1="332.60" x2="512.00" y2="332.60" stroke="#1a1a1a" stroke-width="1.5" />
<line x1="320.50" y1="332.60" x2="320.50" y2="337.90" stroke="#1a1a1a" stroke-width="1.3" />
<text x="320.50" y="348.40" font-size="10.2" font-weight="bold" text-anchor="middle" fill="#111" textLength="4.9" lengthAdjust="spacingAndGlyphs" >0</text>
<line x1="368.23" y1="332.60" x2="368.23" y2="337.90" stroke="#1a1a1a" stroke-width="1.3" />
<text x="368.23" y="348.40" font-size="10.2" font-weight="bold" text-anchor="middle" fill="#111" textLength="14.7" lengthAdjust="spacingAndGlyphs" >200</text>
<line x1="415.95" y1="332.60" x2="415.95" y2="337.90" stroke="#1a1a1a" stroke-width="1.3" />
<text x="415.95" y="348.40" font-size="10.2" font-weight="bold" text-anchor="middle" fill="#111" textLength="14.7" lengthAdjust="spacingAndGlyphs" >400</text>
<line x1="463.68" y1="332.60" x2="463.68" y2="337.90" stroke="#1a1a1a" stroke-width="1.3" />
<text x="463.68" y="348.40" font-size="10.2" font-weight="bold" text-anchor="middle" fill="#111" textLength="14.7" lengthAdjust="spacingAndGlyphs" >600</text>
<line x1="511.40" y1="332.60" x2="511.40" y2="337.90" stroke="#1a1a1a" stroke-width="1.3" />
<text x="511.40" y="348.40" font-size="10.2" font-weight="bold" text-anchor="middle" fill="#111" textLength="14.7" lengthAdjust="spacingAndGlyphs" >800</text>
<polyline points="320.50,226.30 329.50,279.20 334.50,308.20 342.70,314.60 367.70,316.50 385.60,312.00 414.30,318.80 450.80,316.50 498.20,323.20" fill="none" stroke="#8484ea" stroke-width="1.4" stroke-linejoin="round"/>
<polygon points="317.20,223.45 323.80,223.45 320.50,229.15" fill="#8282f2"/>
<polygon points="326.20,276.35 332.80,276.35 329.50,282.05" fill="#8282f2"/>
<polygon points="331.20,305.35 337.80,305.35 334.50,311.05" fill="#8282f2"/>
<polygon points="339.40,311.75 346.00,311.75 342.70,317.45" fill="#8282f2"/>
<polygon points="364.40,313.65 371.00,313.65 367.70,319.35" fill="#8282f2"/>
<polygon points="382.30,309.15 388.90,309.15 385.60,314.85" fill="#8282f2"/>
<polygon points="411.00,315.95 417.60,315.95 414.30,321.65" fill="#8282f2"/>
<polygon points="447.50,313.65 454.10,313.65 450.80,319.35" fill="#8282f2"/>
<polygon points="494.90,320.35 501.50,320.35 498.20,326.05" fill="#8282f2"/>
</svg></body></html>
